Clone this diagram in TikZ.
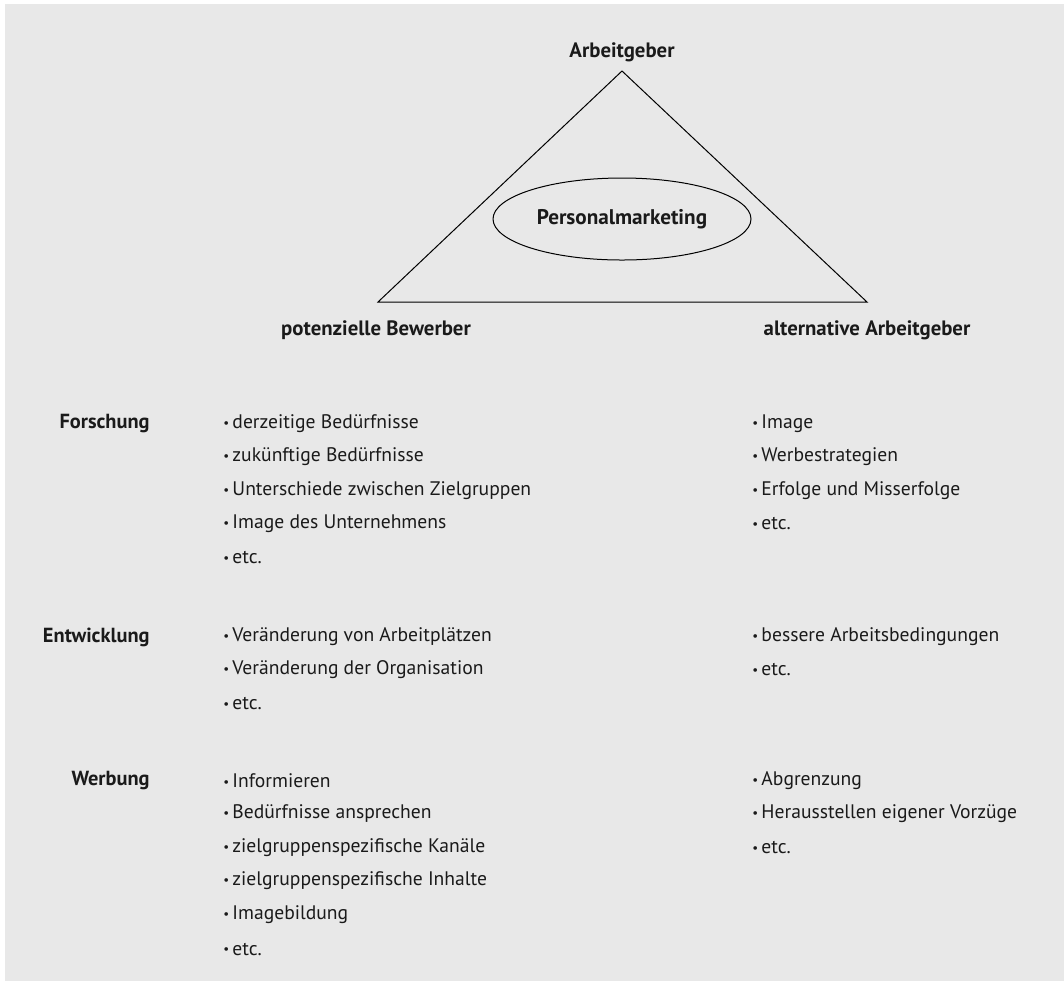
\documentclass[tikz,border=0pt]{standalone}
\usepackage{fontspec}
\setmainfont{PT Sans}
\usepackage{xcolor}
\usepackage{tikz}
\usetikzlibrary{shapes.geometric}
\definecolor{bggray}{HTML}{E8E8E8}
\definecolor{inkblack}{HTML}{1A1A1A}
\newcommand{\dotitem}{\raisebox{0.15ex}{\fontsize{6.5}{7}\selectfont•}\hspace{1.6pt}}

\begin{document}
\begin{tikzpicture}[x=0.5pt, y=-0.5pt, font=\fontsize{9.8}{11}\selectfont, text=inkblack,
  corner/.style={font=\fontsize{10.4}{12}\selectfont\bfseries, inner sep=0},
  category/.style={font=\fontsize{10.2}{12}\selectfont\bfseries, anchor=east, inner sep=0},
  item/.style={anchor=west, inner sep=0}]
\useasboundingbox (0,0) rectangle (1064,981);
\fill[bggray] (5,4) rectangle (1064,981);
%triangle
\coordinate (top) at (622,71);
\coordinate (left) at (378,302);
\coordinate (right) at (867,302);
\draw[line width=0.5pt] (top) -- (left) -- (right) -- cycle;
\node[corner] (arbeitgeber) at (622,52) {Arbeitgeber};
\node[corner] (bewerber) at (376,330) {potenzielle Bewerber};
\node[corner] (alternative) at (867,330) {alternative Arbeitgeber};
\node[ellipse, draw, line width=0.5pt, minimum width=129pt, minimum height=41pt, inner sep=0,
  font=\fontsize{10.6}{12}\selectfont\bfseries] (pm) at (622,219) {Personalmarketing};
%Forschung
\node[category] (forschung) at (150,424) {Forschung};
\node[item] (f1) at (223,424) {\dotitem derzeitige Bedürfnisse};
\node[item] (f2) at (223,457) {\dotitem zukünftige Bedürfnisse};
\node[item] (f3) at (223,491) {\dotitem Unterschiede zwischen Zielgruppen};
\node[item] (f4) at (223,524) {\dotitem Image des Unternehmens};
\node[item] (f5) at (223,558) {\dotitem etc.};
\node[item] (fa1) at (752,424) {\dotitem Image};
\node[item] (fa2) at (752,457) {\dotitem Werbestrategien};
\node[item] (fa3) at (752,491) {\dotitem Erfolge und Misserfolge};
\node[item] (fa4) at (752,524) {\dotitem etc.};
%Entwicklung
\node[category] (entwicklung) at (150,637) {Entwicklung};
\node[item] (e1) at (223,637) {\dotitem Veränderung von Arbeitplätzen};
\node[item] (e2) at (223,670) {\dotitem Veränderung der Organisation};
\node[item] (e3) at (223,704) {\dotitem etc.};
\node[item] (ea1) at (752,637) {\dotitem bessere Arbeitsbedingungen};
\node[item] (ea2) at (752,670) {\dotitem etc.};
%Werbung
\node[category] (werbung) at (150,781) {Werbung};
\node[item] (w1) at (223,781) {\dotitem Informieren};
\node[item] (w2) at (223,814) {\dotitem Bedürfnisse ansprechen};
\node[item] (w3) at (223,848) {\dotitem zielgruppenspezifische Kanäle};
\node[item] (w4) at (223,881) {\dotitem zielgruppenspezifische Inhalte};
\node[item] (w5) at (223,915) {\dotitem Imagebildung};
\node[item] (w6) at (223,949) {\dotitem etc.};
\node[item] (wa1) at (752,781) {\dotitem Abgrenzung};
\node[item] (wa2) at (752,814) {\dotitem Herausstellen eigener Vorzüge};
\node[item] (wa3) at (752,848) {\dotitem etc.};
\end{tikzpicture}
\end{document}
